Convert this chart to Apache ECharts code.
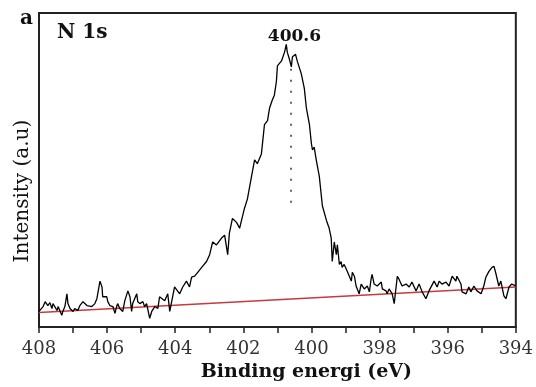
<!DOCTYPE html>
<html>
<head>
<meta charset="utf-8">
<script src="https://cdn.jsdelivr.net/npm/echarts@6/dist/echarts.min.js"></script>
<style>html,body{margin:0;padding:0;background:#fff;}#chart{width:536px;height:387px;}</style>
</head>
<body>
<div id="chart"></div>
<script>
// Binding energy (eV) and measured intensity (a.u.)
const energy = [
  408.00,407.88,407.82,407.74,407.68,407.62,407.59,407.47,407.44,407.33,
  407.30,407.24,407.18,407.15,407.09,407.00,406.95,406.86,406.80,406.71,
  406.59,406.56,406.45,406.36,406.30,406.27,406.21,406.15,406.13,406.01,
  405.98,405.92,405.83,405.77,405.72,405.69,405.63,405.54,405.48,405.39,
  405.33,405.28,405.25,405.13,405.10,405.04,404.95,404.90,404.84,404.75,
  404.69,404.60,404.51,404.46,404.31,404.22,404.16,404.02,403.87,403.78,
  403.67,403.58,403.52,403.43,403.34,403.20,403.08,402.99,402.90,402.79,
  402.64,402.55,402.46,402.41,402.32,402.20,402.11,402.02,401.97,401.88,
  401.76,401.67,401.59,401.47,401.44,401.38,401.29,401.23,401.15,401.09,
  401.03,401.00,400.88,400.79,400.74,400.71,400.65,400.59,400.56,400.47,
  400.41,400.30,400.21,400.15,400.06,400.00,399.97,399.92,399.86,399.77,
  399.68,399.56,399.48,399.42,399.39,399.33,399.27,399.24,399.18,399.13,
  399.10,399.04,398.95,398.83,398.80,398.74,398.69,398.60,398.54,398.45,
  398.36,398.30,398.25,398.22,398.16,398.07,397.95,397.92,397.81,397.78,
  397.72,397.63,397.57,397.48,397.43,397.34,397.22,397.13,397.05,396.93,
  396.84,396.75,396.64,396.55,396.40,396.31,396.25,396.17,396.05,395.96,
  395.87,395.76,395.73,395.61,395.58,395.46,395.38,395.32,395.23,395.14,
  395.02,394.94,394.88,394.79,394.70,394.64,394.58,394.50,394.44,394.35,
  394.29,394.20,394.12,394.00
];
const intensity = [
  16,21,26,22,25,19,24,17,21,12,
  16,21,34,24,19,16,19,17,22,26,
  22,24,21,24,29,31,47,41,31,31,
  26,22,21,14,21,24,19,16,27,37,
  31,16,24,34,26,24,26,21,24,9,
  16,21,19,31,27,34,16,41,34,41,
  47,41,51,52,56,62,67,74,87,84,
  91,94,74,96,111,107,101,114,121,131,
  154,171,167,177,187,207,211,224,232,237,
  251,267,272,281,289,281,274,266,276,279,
  271,259,244,224,207,187,181,184,171,154,
  124,109,101,91,67,87,74,84,64,67,
  61,64,57,47,56,52,42,34,44,39,
  42,36,49,54,44,42,46,39,37,34,
  39,34,24,52,49,42,44,41,46,37,
  44,36,29,37,47,41,47,44,46,42,
  52,47,52,44,36,34,41,36,42,37,
  34,42,51,57,61,62,54,42,47,32,
  29,41,44,42
];
// Linear background (red)
const baselineEnergy = [408, 394];
const baselineIntensity = [15, 41];
// Peak marker
const peakEnergy = 400.6;
const peakLineIntensity = [264, 127];
const peakLabelText = '400.6';
const peakLabelPos = [400.5, 288];

const xTicks = { min: 394, max: 408, step: 1 };

const serif = 'DejaVu Serif';
const chart = echarts.init(document.getElementById('chart'));
chart.setOption({
  animation: false,
  backgroundColor: '#fff',
  grid: { left: 39, right: 19, top: 13, bottom: 53, show: true, borderColor: '#222', borderWidth: 2 },
  xAxis: {
    type: 'value', inverse: true, min: xTicks.min, max: xTicks.max, interval: xTicks.step,
    splitLine: { show: false },
    axisLine: { show: true, lineStyle: { color: '#222', width: 2 } },
    axisTick: { show: true, inside: false, length: 6, lineStyle: { color: '#222', width: 1.5 } },
    axisLabel: {
      margin: 13, color: '#333', fontFamily: serif, fontSize: 18,
      formatter: v => (v % 2 === 0 ? String(v) : '')
    },
    name: 'Binding energi (eV)', nameLocation: 'middle', nameGap: 26,
    nameTextStyle: { fontFamily: serif, fontWeight: 'bold', fontSize: 19, color: '#111', padding: [0, 0, 0, 58] }
  },
  yAxis: {
    type: 'value', min: 0, max: 321,
    splitLine: { show: false },
    axisLine: { show: true, lineStyle: { color: '#222', width: 2 } },
    axisTick: { show: false },
    axisLabel: { show: false },
    name: 'Intensity (a.u)', nameLocation: 'middle', nameGap: 6,
    nameTextStyle: { fontFamily: serif, fontSize: 20, color: '#111', padding: [0, 42, 0, 0] }
  },
  graphic: [
    { type: 'text', left: 20, top: 9, style: { text: 'a', font: 'bold 20px "DejaVu Serif"', fill: '#111' } },
    { type: 'text', left: 57, top: 23, style: { text: 'N 1s', font: 'bold 20px "DejaVu Serif"', fill: '#111' } }
  ],
  series: [
    {
      type: 'line', data: energy.map((e, i) => [e, intensity[i]]),
      showSymbol: false, symbol: 'none', smooth: false, sampling: null,
      lineStyle: { color: '#000', width: 1.3 }, z: 3
    },
    {
      type: 'line', data: baselineEnergy.map((e, i) => [e, baselineIntensity[i]]),
      showSymbol: false, symbol: 'none',
      lineStyle: { color: '#c8393f', width: 1.5 }, z: 2
    },
    {
      type: 'line', data: peakLineIntensity.map(v => [peakEnergy, v]),
      showSymbol: false, symbol: 'none',
      lineStyle: { color: '#333', width: 1.5, type: [2, 9] }, z: 2
    },
    {
      type: 'scatter', data: [peakLabelPos], symbolSize: 0, silent: true,
      itemStyle: { opacity: 1 },
      label: { show: true, position: 'top', distance: 0, formatter: peakLabelText,
        fontFamily: serif, fontWeight: 'bold', fontSize: 17, color: '#111', opacity: 1,
        textBorderWidth: 0 }
    }
  ]
});
</script>
</body>
</html>
